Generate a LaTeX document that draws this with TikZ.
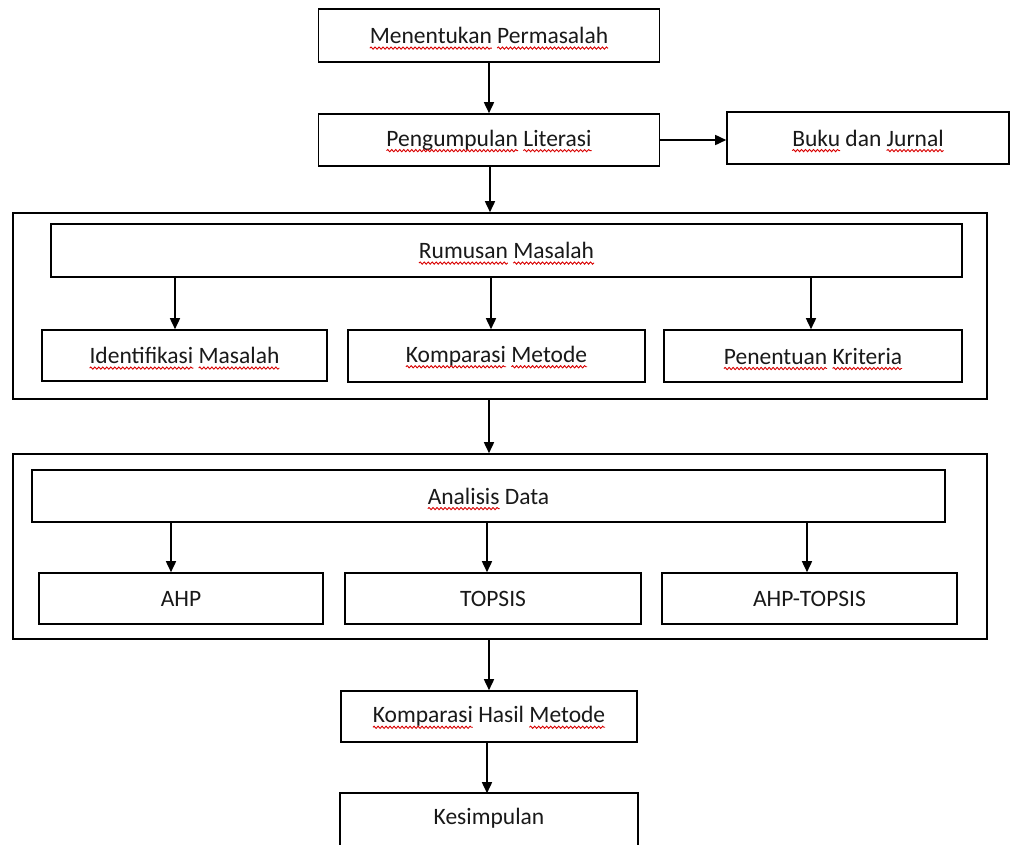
\documentclass[tikz,border=0pt]{standalone}
\usepackage{fontspec}
\setmainfont{Carlito}
\usetikzlibrary{arrows.meta,calc,decorations.pathmorphing}
\newcommand\rw[1]{\tikz[baseline=(w.base),x=1pt,y=1pt]{%
  \node[shape=rectangle,inner sep=0pt,outer sep=0pt,minimum width=0pt,minimum height=0pt,draw=none,fill=none,anchor=center] (w) at (0,0) {#1};%
  \draw[overlay, draw=red!85!black, line width=0.9pt, decorate, decoration={snake,amplitude=1.1pt,segment length=4pt}] ([yshift=-4.5pt]w.base west) -- ([yshift=-4.5pt]w.base east);}}
\tikzset{
  box/.style={draw=black, line width=1.6pt, rectangle, inner sep=0pt, text=black!90,
    font=\fontsize{23.5}{28}\selectfont},
  frame/.style={draw=black, line width=1.6pt, rectangle, inner sep=0pt},
  arr/.style={draw=black, line width=1.6pt, -{Triangle[width=10pt,length=11pt]}}
}
\begin{document}
\begin{tikzpicture}[x=1pt,y=-1pt]
\useasboundingbox (0,0) rectangle (1012,844);
\clip (0,0) rectangle (1012,844);
\fill[white] (0,0) rectangle (1012,844);
% top boxes
\node[box, minimum width=341pt, minimum height=53pt] (m1) at (489,35.5) {\rw{Menentukan} \rw{Permasalah}};
\node[box, minimum width=341pt, minimum height=52pt] (m2) at (489,140) {\rw{Pengumpulan} \rw{Literasi}};
\node[box, minimum width=282pt, minimum height=52pt] (bk) at (868,138) {\rw{Buku} dan \rw{Jurnal}};
% outer frame 1
\node[frame, minimum width=974pt, minimum height=186pt] (o1) at (500,306) {};
\node[box, minimum width=911pt, minimum height=53pt] (rm) at (506.5,250.5) {\rw{Rumusan} \rw{Masalah}};
\node[box, minimum width=285pt, minimum height=51pt] (id) at (184.5,355.5) {\rw{Identifikasi} \rw{Masalah}};
\node[box, minimum width=297pt, minimum height=52pt] (km) at (496.5,356) {\rw{Komparasi} \rw{Metode}};
\node[box, minimum width=298pt, minimum height=52pt] (pk) at (813,356) {\rw{Penentuan} \rw{Kriteria}};
% outer frame 2
\node[frame, minimum width=974pt, minimum height=185pt] (o2) at (500,546.5) {};
\node[box, minimum width=913pt, minimum height=52pt] (ad) at (488.5,496) {\rw{Analisis} Data};
\node[box, minimum width=284pt, minimum height=51pt] (ahp) at (181,598.5) {AHP};
\node[box, minimum width=296pt, minimum height=51pt] (tp) at (493,598.5) {TOPSIS};
\node[box, minimum width=295pt, minimum height=51pt] (at) at (809.5,598.5) {AHP-TOPSIS};
% bottom
\node[box, minimum width=296pt, minimum height=51pt] (kh) at (489,716.5) {\rw{Komparasi} Hasil \rw{Metode}};
\node[box, draw=none, minimum width=296pt, minimum height=48pt] (ks) at (489,818) {Kesimpulan};
\coordinate (ksb) at (489,870);
\draw[frame] (ks.north west |- ksb) -- (ks.north west) -- (ks.north east) -- (ks.north east |- ksb);
% connectors
\draw[arr] (m1.south) -- (m2.north);
\draw[arr] (m2.east) -- (m2.east -| bk.west);
\draw[arr] ([xshift=1pt]m2.south) -- ([xshift=1pt]m2.south |- o1.north);
\draw[arr] ([xshift=-9.5pt]id.north |- rm.south) -- ([xshift=-9.5pt]id.north);
\draw[arr] ([xshift=-5.5pt]km.north |- rm.south) -- ([xshift=-5.5pt]km.north);
\draw[arr] ([xshift=-2pt]pk.north |- rm.south) -- ([xshift=-2pt]pk.north);
\draw[arr] (o1.south -| m2) -- (o2.north -| m2);
\draw[arr] ([xshift=-10pt]ahp.north |- ad.south) -- ([xshift=-10pt]ahp.north);
\draw[arr] ([xshift=-6pt]tp.north |- ad.south) -- ([xshift=-6pt]tp.north);
\draw[arr] ([xshift=-2.5pt]at.north |- ad.south) -- ([xshift=-2.5pt]at.north);
\draw[arr] (o2.south -| kh) -- (kh.north);
\draw[arr] ([xshift=-2pt]kh.south) -- ([xshift=-2pt]kh.south |- ks.north);
\end{tikzpicture}
\end{document}
